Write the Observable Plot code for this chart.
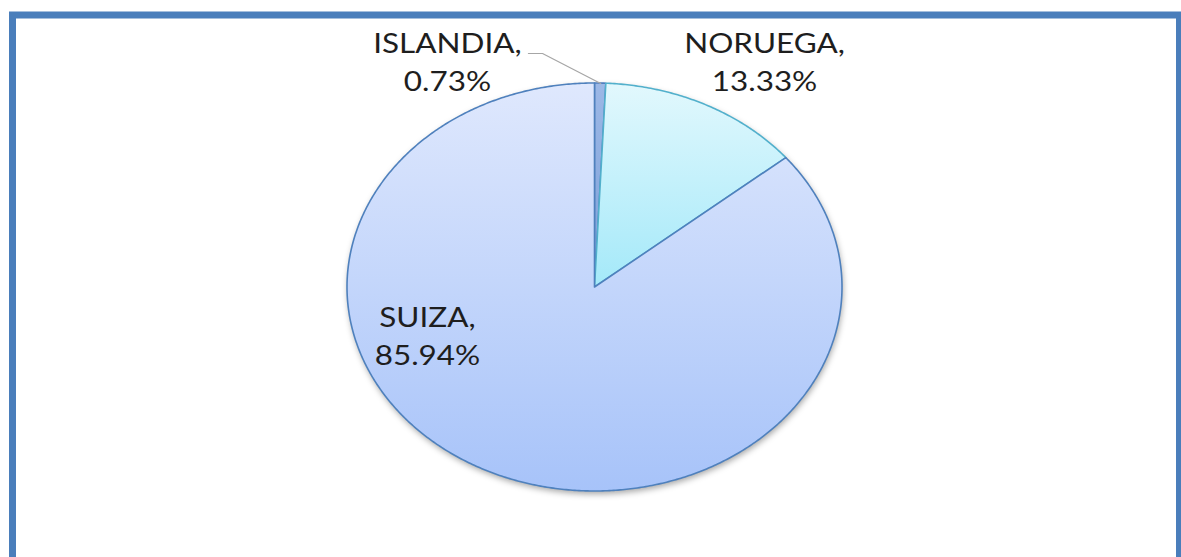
<!DOCTYPE html>
<html><head><meta charset="utf-8">
<script src="https://cdn.jsdelivr.net/npm/d3@7"></script>
<script src="https://cdn.jsdelivr.net/npm/@observablehq/plot@0.6"></script>
<style>
html,body{margin:0;padding:0;background:#fff;overflow:hidden}
#chart svg{display:block}
</style>
</head><body><div id="chart"></div>
<script>
// ---- data ----
const countries = ["ISLANDIA", "NORUEGA", "SUIZA"];
const shares = [0.73, 13.33, 85.94]; // percent

// ---- style / layout ----
const W = 1181, H = 557;
const pie = {cx: 594.5, cy: 287, rx: 247.5, ry: 204};
const topColors = ["#9cb8e6", "#e2f8fd", "#dfe8fd"];
const bottomColors = ["#7d9fd8", "#a4e9f9", "#a7c3f9"];
const strokes = ["#4f7fc0", "#52b0cc", "#4f81bd"];
const labelPos = [[-0.596, 1.117], [0.685, 1.117], [-0.677, -0.228]]; // unit coords
const leaderStart = [[-0.269, 1.147], [-0.212, 1.147]];
const drawOrder = [0, 1, 2];

// ---- geometry derived from the values ----
let cum = 0;
const slices = countries.map((name, i) => {
  const a0 = cum / 100 * 2 * Math.PI;
  cum += shares[i];
  const a1 = cum / 100 * 2 * Math.PI;
  const n = Math.max(2, Math.ceil((a1 - a0) / (Math.PI / 360)));
  const pts = [];
  for (let k = 0; k <= n; k++) {
    const a = a0 + (a1 - a0) * k / n;
    pts.push({x: Math.sin(a), y: Math.cos(a), x0: 0, y0: 0});
  }
  const mid = (a0 + a1) / 2;
  return {name, share: shares[i], i, pts, mid};
});
const fullEllipse = d3.range(0, 361, 2).map(d => ({x: Math.sin(d * Math.PI / 180), y: Math.cos(d * Math.PI / 180), x0: 0, y0: 0}));
const labels = slices.map((s, i) => ({
  text: `${s.name},\n${s.share.toFixed(2)}%`,
  x: labelPos[i][0], y: labelPos[i][1]
}));
const isl = slices[0];
const leader = [
  {x: leaderStart[0][0], y: leaderStart[0][1]},
  {x: leaderStart[1][0], y: leaderStart[1][1]},
  {x: Math.sin(isl.mid), y: Math.cos(isl.mid)}
];

const marks = [
  Plot.area(fullEllipse, {x1: "x", y1: "y", x2: "x0", y2: "y0", fill: "#000", fillOpacity: 0.35, stroke: "none", dy: 3, dx: 1}),
  ...drawOrder.map(i => Plot.area(slices[i].pts, {
    x1: "x", y1: "y", x2: "x0", y2: "y0", fill: `url(#grad-${i})`, stroke: strokes[i], strokeWidth: 1.6, strokeLinejoin: "round"
  })),
  Plot.line(leader, {x: "x", y: "y", stroke: "#a6a6a6", strokeWidth: 1.2}),
  Plot.text(labels, {x: "x", y: "y", text: "text", fill: "#1e1e1e", fontSize: 26, lineHeight: 1.46, lineAnchor: "middle", textAnchor: "middle", fontFamily: "Lato, sans-serif"}),
  Plot.frame({stroke: "#4a7ebb", strokeWidth: 7, insetLeft: 12, insetTop: 14.5, insetRight: 2, insetBottom: -30})
];

const chart = Plot.plot({
  width: W, height: H,
  margin: 0,
  x: {domain: [-1, 1], range: [pie.cx - pie.rx, pie.cx + pie.rx], axis: null},
  y: {domain: [-1, 1], range: [pie.cy + pie.ry, pie.cy - pie.ry], axis: null},
  style: {background: "#fff", overflow: "hidden"},
  marks
});

// gradients & blur filter
const svgEl = chart.tagName.toLowerCase() === "svg" ? chart : chart.querySelector("svg");
const svg = d3.select(svgEl);
const defs = svg.insert("defs", ":first-child");
slices.forEach((s, i) => {
  const g = defs.append("linearGradient").attr("id", `grad-${i}`).attr("x1", 0).attr("y1", 0).attr("x2", 0).attr("y2", 1);
  g.append("stop").attr("offset", "0%").attr("stop-color", topColors[i]);
  g.append("stop").attr("offset", "100%").attr("stop-color", bottomColors[i]);
});
defs.append("filter").attr("id", "blur").attr("x", "-10%").attr("y", "-10%").attr("width", "120%").attr("height", "120%")
  .append("feGaussianBlur").attr("stdDeviation", 3);
const areaGroups = svgEl.querySelectorAll('g[aria-label="area"]');
if (areaGroups.length) areaGroups[0].setAttribute("filter", "url(#blur)");
svg.selectAll('g[aria-label="text"] text').each(function() {
  const t = this.getAttribute("transform");
  if (t) this.setAttribute("transform", t + " scale(1.21,1)");
});

document.getElementById("chart").appendChild(chart);
</script>
</body></html>
